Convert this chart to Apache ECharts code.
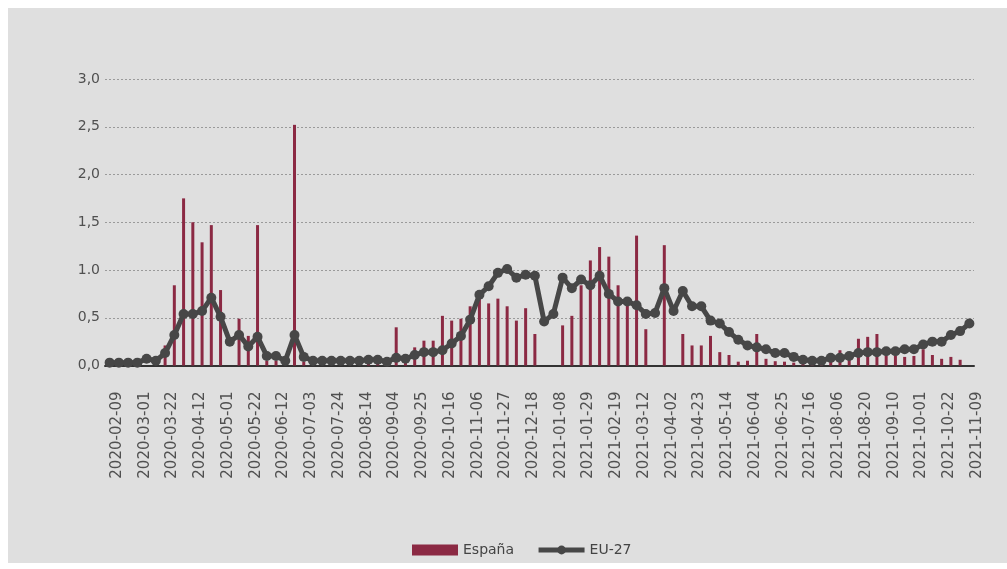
<!DOCTYPE html>
<html>
<head>
<meta charset="utf-8">
<script src="https://cdn.jsdelivr.net/npm/echarts@6/dist/echarts.min.js"></script>
<style>
html,body{margin:0;padding:0;background:#ffffff;}
#bg{position:absolute;left:8px;top:8px;width:999px;height:555px;background:#dfdfdf;}
#chart{position:absolute;left:0;top:0;width:1007px;height:569px;}
</style>
</head>
<body>
<div id="bg"></div>
<div id="chart"></div>
<script>
const categories = [
 '2020-02-09','2020-02-16','2020-02-23','2020-03-01','2020-03-08','2020-03-15','2020-03-22','2020-03-29','2020-04-05','2020-04-12',
 '2020-04-17','2020-04-24','2020-05-01','2020-05-08','2020-05-15','2020-05-22','2020-05-29','2020-06-05','2020-06-12','2020-06-19',
 '2020-06-26','2020-07-03','2020-07-10','2020-07-17','2020-07-24','2020-07-31','2020-08-07','2020-08-14','2020-08-21','2020-08-28',
 '2020-09-04','2020-09-11','2020-09-18','2020-09-25','2020-10-02','2020-10-09','2020-10-16','2020-10-23','2020-10-30','2020-11-06',
 '2020-11-13','2020-11-20','2020-11-27','2020-12-04','2020-12-11','2020-12-18','2020-12-25','2021-01-01','2021-01-08','2021-01-15',
 '2021-01-22','2021-01-29','2021-02-05','2021-02-12','2021-02-19','2021-02-26','2021-03-05','2021-03-12','2021-03-19','2021-03-26',
 '2021-04-02','2021-04-09','2021-04-16','2021-04-23','2021-04-30','2021-05-07','2021-05-14','2021-05-21','2021-05-28','2021-06-04',
 '2021-06-11','2021-06-18','2021-06-25','2021-07-02','2021-07-09','2021-07-16','2021-07-23','2021-07-30','2021-08-06','2021-08-10',
 '2021-08-13','2021-08-20','2021-08-27','2021-09-03','2021-09-10','2021-09-17','2021-09-24','2021-10-01','2021-10-08','2021-10-15',
 '2021-10-22','2021-10-29','2021-11-05','2021-11-09'
];

const espana = [
 0,0,0,0,0,0,0.21,0.84,1.75,1.50,
 1.29,1.47,0.79,0,0.49,0.31,1.47,0.05,0.05,0,
 2.52,0.04,0,0,0,0,0,0,0.02,0.02,
 0,0.40,0.04,0.19,0.26,0.26,0.52,0.47,0.49,0.62,
 0.70,0.65,0.70,0.62,0.47,0.60,0.33,0,0,0.42,
 0.52,0.84,1.10,1.24,1.14,0.84,0.70,1.36,0.38,0,
 1.26,0,0.33,0.21,0.21,0.31,0.14,0.11,0.04,0.05,
 0.33,0.07,0.045,0.04,0.03,0.03,0.03,0.03,0.09,0.16,
 0.14,0.28,0.30,0.33,0.10,0.10,0.09,0.10,0.17,0.11,
 0.07,0.09,0.06,0
];

const eu27 = [
 0.03,0.03,0.03,0.03,0.07,0.05,0.13,0.32,0.54,0.54,
 0.57,0.71,0.51,0.25,0.32,0.20,0.30,0.10,0.10,0.05,
 0.32,0.09,0.05,0.05,0.05,0.05,0.05,0.05,0.06,0.06,
 0.04,0.08,0.07,0.11,0.14,0.14,0.16,0.23,0.31,0.48,
 0.74,0.83,0.97,1.01,0.92,0.95,0.94,0.46,0.54,0.92,
 0.81,0.90,0.84,0.94,0.75,0.67,0.67,0.63,0.54,0.55,
 0.81,0.57,0.78,0.62,0.62,0.47,0.44,0.35,0.27,0.21,
 0.19,0.17,0.13,0.13,0.09,0.06,0.05,0.05,0.08,0.08,
 0.10,0.13,0.14,0.14,0.15,0.15,0.17,0.17,0.22,0.25,
 0.25,0.32,0.36,0.44
];

const yTickLabels = ['0,0','0,5','1.0','1,5','2,0','2,5','3,0'];
const seriesNames = ['España','EU-27'];

const chart = echarts.init(document.getElementById('chart'), null, {renderer:'canvas'});
chart.setOption({
  animation: false,
  backgroundColor: 'transparent',
  grid: {left: 105, width: 869, top: 79, bottom: 203.5, containLabel: false},
  legend: {
    data: [
      {name: seriesNames[0], icon: 'rect'},
      {name: seriesNames[1], lineStyle: {width: 5, color: '#474747'}, itemStyle: {color: '#474747'}}
    ],
    left: 407, top: 538,
    itemWidth: 46, itemHeight: 11, itemGap: 22,
    textStyle: {fontFamily: 'DejaVu Sans', fontSize: 14, color: '#444'}
  },
  xAxis: {
    type: 'category',
    data: categories,
    boundaryGap: true,
    axisLine: {show: true, lineStyle: {color: '#333', width: 2}},
    axisTick: {show: false},
    axisLabel: {
      interval: 2, rotate: 90, margin: 26,
      verticalAlign: 'top',
      fontFamily: 'DejaVu Sans', fontSize: 15, color: '#505050'
    },
    splitLine: {show: false}
  },
  yAxis: {
    type: 'value', min: 0, max: 3, interval: 0.5,
    axisLine: {show: false}, axisTick: {show: false},
    axisLabel: {
      margin: 5,
      fontFamily: 'DejaVu Sans', fontSize: 14, color: '#505050',
      formatter: function (v) { return yTickLabels[Math.round(v / 0.5)]; }
    },
    splitLine: {show: true, lineStyle: {color: '#9a9a9a', type: [2, 2], width: 1}}
  },
  series: [
    {
      name: seriesNames[0], type: 'bar', data: espana,
      barWidth: 3,
      itemStyle: {color: '#8b2943'},
      z: 2
    },
    {
      name: seriesNames[1], type: 'line', data: eu27,
      symbol: 'circle', symbolSize: 10, showAllSymbol: true,
      lineStyle: {color: '#474747', width: 5},
      itemStyle: {color: '#474747'},
      z: 3
    }
  ]
});
</script>
</body>
</html>
